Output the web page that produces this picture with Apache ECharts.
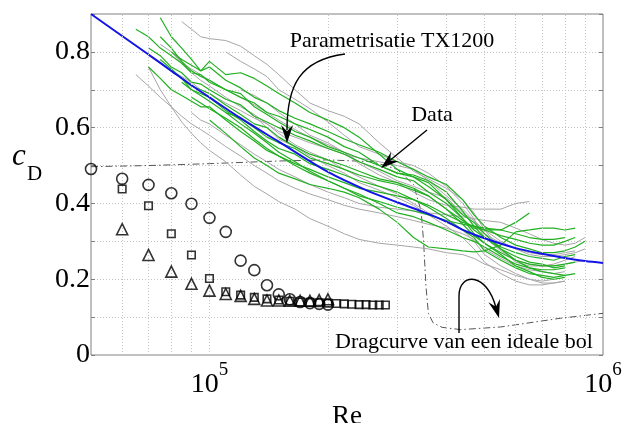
<!DOCTYPE html>
<html>
<head>
<meta charset="utf-8">
<script src="https://cdn.jsdelivr.net/npm/echarts@6/dist/echarts.min.js"></script>
<style>
  html, body { margin: 0; padding: 0; background: #fff; }
  #chart { width: 623px; height: 423px; }
</style>
</head>
<body>
<div id="chart"></div>
<script>
// Reynolds numbers at which the measured runs are sampled
const reGrid = [6.5e4, 7e4, 7.5e4, 8e4, 8.5e4, 9e4, 9.5e4, 1e5, 1.1e5, 1.2e5, 1.3e5, 1.4e5, 1.5e5, 1.65e5, 1.8e5,
  2e5, 2.2e5, 2.4e5, 2.7e5, 3e5, 3.3e5, 3.6e5, 4e5, 4.4e5, 4.7e5, 5e5, 5.5e5, 6e5, 6.5e5, 7e5, 7.5e5, 8e5, 8.5e5, 9e5, 9.5e5];

// green runs: index in reGrid where the run starts, then cD values
const greenStart = [2, 0, 1, 2, 3, 1, 7, 4, 5, 2, 3, 8];
const greenVals = [
  [0.89,0.84,0.81,0.78,0.75,0.775,0.74,0.745,0.73,0.71,0.69,0.665,0.64,0.62,0.60,0.575,0.53,0.49,0.47,0.445,0.41,0.37,0.35,0.32,0.28,0.26,0.245,0.24,0.23,0.235],
  [0.86,0.84,0.81,0.79,0.77,0.745,0.74,0.72,0.70,0.68,0.665,0.64,0.63,0.61,0.595,0.575,0.55,0.535,0.50,0.48,0.475,0.46,0.43,0.38,0.34,0.31,0.28,0.25,0.23,0.22,0.215,0.21,0.215],
  [0.81,0.79,0.76,0.745,0.72,0.715,0.70,0.675,0.66,0.63,0.615,0.60,0.58,0.565,0.545,0.53,0.51,0.49,0.47,0.46,0.43,0.40,0.36,0.33,0.31,0.285,0.27,0.26,0.255,0.25,0.26,0.265],
  [0.78,0.755,0.73,0.71,0.70,0.69,0.66,0.635,0.61,0.60,0.575,0.55,0.53,0.515,0.50,0.485,0.465,0.455,0.44,0.42,0.385,0.355,0.335,0.33,0.33,0.35,0.375],
  [0.75,0.73,0.70,0.69,0.68,0.645,0.62,0.59,0.565,0.545,0.53,0.505,0.49,0.475,0.46,0.445,0.43,0.41,0.39,0.36,0.33,0.31,0.275,0.25,0.23,0.215,0.21,0.205,0.21],
  [0.76,0.73,0.70,0.685,0.67,0.655,0.655,0.62,0.59,0.565,0.54,0.525,0.505,0.49,0.47,0.455,0.44,0.43,0.42,0.41,0.395,0.37,0.35,0.34,0.33,0.315,0.305,0.295,0.29,0.29,0.30,0.31],
  [0.62,0.585,0.55,0.52,0.50,0.48,0.465,0.45,0.44,0.43,0.415,0.385,0.35,0.31,0.285,0.28,0.275,0.272,0.275,0.29,0.325,0.33,0.335,0.335,0.33,0.335],
  [0.72,0.70,0.685,0.67,0.64,0.625,0.60,0.575,0.56,0.545,0.52,0.505,0.49,0.475,0.46,0.45,0.435,0.42,0.385,0.345,0.315,0.295,0.265,0.235,0.22,0.205,0.20,0.205],
  [0.68,0.665,0.65,0.625,0.60,0.57,0.545,0.525,0.50,0.48,0.46,0.44,0.425,0.40,0.375,0.365,0.35,0.33,0.31,0.30,0.285,0.26,0.24,0.23,0.225,0.225,0.23],
  [0.84,0.81,0.775,0.75,0.735,0.725,0.70,0.69,0.655,0.635,0.615,0.59,0.575,0.55,0.535,0.52,0.50,0.48,0.47,0.455,0.41,0.36,0.32,0.295,0.27,0.25,0.24,0.235,0.235,0.24,0.245],
  [0.80,0.78,0.765,0.75,0.76,0.725,0.705,0.68,0.665,0.645,0.625,0.61,0.59,0.57,0.555,0.535,0.51,0.49,0.47,0.45,0.41,0.37,0.34,0.31,0.29,0.28,0.27,0.27,0.275,0.285,0.30],
  [0.64,0.61,0.585,0.56,0.535,0.51,0.485,0.46,0.44,0.42,0.405,0.39,0.38,0.37,0.355,0.345,0.34,0.335,0.33,0.32,0.31,0.305,0.305,0.31]
];

// gray runs
const grayStart = [4, 1, 9, 1, 2, 5, 0, 8, 3, 9];
const grayVals = [
  [0.88,0.86,0.84,0.835,0.83,0.815,0.79,0.767,0.74,0.70,0.665,0.645,0.63,0.61,0.56,0.52,0.485,0.465,0.44,0.41,0.375,0.33,0.28,0.245,0.235,0.235,0.235,0.24,0.245,0.25],
  [0.79,0.77,0.75,0.735,0.72,0.70,0.69,0.665,0.645,0.625,0.61,0.59,0.575,0.56,0.545,0.53,0.52,0.51,0.50,0.49,0.46,0.42,0.385,0.355,0.32,0.295,0.28,0.27,0.265,0.265,0.27,0.275],
  [0.70,0.685,0.665,0.64,0.61,0.58,0.56,0.535,0.505,0.475,0.455,0.43,0.41,0.395,0.39,0.385,0.385,0.385,0.40,0.405],
  [0.76,0.70,0.655,0.615,0.585,0.56,0.54,0.51,0.475,0.445,0.425,0.405,0.385,0.36,0.34,0.32,0.305,0.295,0.29,0.285,0.28,0.27,0.265,0.255,0.24,0.225,0.21,0.20,0.195,0.20],
  [0.82,0.80,0.775,0.745,0.725,0.71,0.68,0.655,0.635,0.61,0.585,0.555,0.535,0.515,0.49,0.47,0.445,0.425,0.40,0.375,0.35,0.33,0.30,0.265,0.235,0.215,0.20,0.19,0.19,0.195],
  [0.64,0.62,0.61,0.58,0.555,0.53,0.51,0.49,0.47,0.45,0.43,0.415,0.40,0.39,0.385,0.38,0.375,0.37,0.365,0.36,0.355,0.35,0.335,0.32,0.305,0.295,0.29,0.295,0.31],
  [0.74,0.71,0.68,0.655,0.63,0.61,0.595,0.58,0.55,0.525,0.50,0.48,0.46,0.44,0.425,0.41,0.395,0.385,0.375,0.365,0.355,0.345,0.335,0.32,0.305,0.28,0.255,0.235,0.225,0.22,0.215,0.22],
  [0.80,0.775,0.755,0.735,0.70,0.675,0.65,0.615,0.58,0.55,0.53,0.51,0.50,0.48,0.445,0.40,0.36,0.31,0.275,0.25,0.24,0.235,0.24,0.25,0.26],
  [0.80,0.77,0.755,0.74,0.725,0.70,0.68,0.66,0.64,0.62,0.595,0.575,0.555,0.535,0.51,0.485,0.46,0.445,0.43,0.415,0.375,0.355,0.33,0.30,0.28,0.265,0.26,0.26,0.265,0.27,0.28],
  [0.66,0.63,0.60,0.57,0.55,0.525,0.50,0.48,0.455,0.435,0.415,0.395,0.37,0.34,0.31,0.28,0.245,0.215,0.195,0.185,0.185,0.19,0.195]
];

// Parametrisatie TX1200
const blueRe = [5e4,6e4,7e4,8e4,9e4,1e5,1.2e5,1.5e5,2e5,2.5e5,3e5,3.5e5,4e5,4.5e5,5e5,6e5,7e5,8e5,9e5,1e6];
const blueCd = [0.900,0.842,0.793,0.750,0.712,0.680,0.625,0.563,0.483,0.435,0.403,0.377,0.352,0.326,0.308,0.282,0.267,0.256,0.248,0.243];

// drag curve of an ideal sphere
const dragRe = [5e4,7e4,1e5,1.5e5,2e5,2.6e5,3e5,3.3e5,3.45e5,3.5e5,3.55e5,3.6e5,3.7e5,3.9e5,4.35e5,5.5e5,7.8e5,1e6];
const dragCd = [0.497,0.500,0.505,0.512,0.515,0.51,0.49,0.45,0.38,0.30,0.18,0.11,0.085,0.073,0.067,0.074,0.097,0.11];

// reference markers
const circleRe = [5e4,6e4,7e4,8e4,9e4,1e5,1.1e5,1.2e5,1.3e5,1.4e5,1.5e5,1.6e5,1.7e5,1.8e5,1.9e5,2e5];
const circleCd = [0.491,0.465,0.449,0.427,0.399,0.362,0.325,0.249,0.224,0.184,0.160,0.147,0.140,0.137,0.135,0.133];
const squareRe = [6e4,7e4,8e4,9e4,1e5,1.1e5,1.2e5,1.3e5,1.4e5,1.5e5,1.6e5,1.7e5,1.8e5,1.9e5,2e5,2.1e5,2.2e5,2.3e5,2.4e5,2.5e5,2.6e5,2.7e5,2.8e5];
const squareCd = [0.438,0.394,0.320,0.264,0.202,0.167,0.158,0.152,0.148,0.145,0.142,0.140,0.139,0.138,0.137,0.136,0.135,0.134,0.133,0.133,0.132,0.132,0.132];
const triRe = [6e4,7e4,8e4,9e4,1e5,1.1e5,1.2e5,1.3e5,1.4e5,1.5e5,1.6e5,1.7e5,1.8e5,1.9e5,2e5];
const triCd = [0.332,0.264,0.220,0.188,0.170,0.161,0.156,0.148,0.144,0.144,0.143,0.143,0.143,0.145,0.147];

// vertical grid lines of the log axis
const gridRe = [6e4,7e4,8e4,9e4,1e5,2e5,3e5,4e5,5e5,6e5,7e5,8e5,9e5];

const serif = "'Liberation Serif', 'DejaVu Serif', serif";

function run(start, vals) {
  return vals.map((v, i) => [reGrid[start + i], v]);
}
function pairs(xs, ys) {
  return xs.map((x, i) => [x, ys[i]]);
}

var myChart = echarts.init(document.getElementById('chart'));

var series = [];
series.push({
  type: 'line', data: [], z: 1, silent: true,
  markLine: {
    silent: true, symbol: 'none', label: { show: false },
    lineStyle: { color: '#c4c4c4', type: [1, 2], width: 1 },
    data: gridRe.map(r => ({ xAxis: r }))
  }
});
series.push({
  type: 'line', data: pairs(dragRe, dragCd), showSymbol: false, z: 2,
  lineStyle: { color: '#555', width: 1, type: [7, 3, 1.5, 3] }
});
grayVals.forEach((v, k) => {
  series.push({
    type: 'line', data: run(grayStart[k], v), showSymbol: false, z: 2,
    lineStyle: { color: '#a6a6a6', width: 1 }
  });
});
greenVals.forEach((v, k) => {
  series.push({
    type: 'line', data: run(greenStart[k], v), showSymbol: false, z: 3,
    lineStyle: { color: '#22b022', width: 1.2 }
  });
});
series.push({
  type: 'line', data: pairs(blueRe, blueCd), showSymbol: false, smooth: 0.3, z: 4,
  lineStyle: { color: '#1414e6', width: 2 }
});
const markerStyle = { color: 'rgba(255,255,255,0)', borderColor: '#000', borderWidth: 1.6 };
series.push({ type: 'scatter', data: pairs(circleRe, circleCd), symbol: 'circle', symbolSize: 11, z: 5, itemStyle: markerStyle });
series.push({ type: 'scatter', data: pairs(squareRe, squareCd), symbol: 'rect', symbolSize: 7.5, z: 5, itemStyle: markerStyle });
series.push({ type: 'scatter', data: pairs(triRe, triCd), symbol: 'triangle', symbolSize: 11, z: 5, itemStyle: markerStyle });

function head(tip, from, len, half) {
  const dx = tip[0] - from[0], dy = tip[1] - from[1];
  const d = Math.sqrt(dx * dx + dy * dy), ux = dx / d, uy = dy / d;
  const bx = tip[0] - len * ux, by = tip[1] - len * uy;
  return [tip, [bx - half * uy, by + half * ux], [tip[0] - 0.65 * len * ux, tip[1] - 0.65 * len * uy], [bx + half * uy, by - half * ux]];
}

const arrowStroke = { stroke: '#000', lineWidth: 1.4, fill: null };
myChart.setOption({
  animation: false,
  grid: { left: 91, top: 14, right: 20, bottom: 68, containLabel: false, outerBoundsMode: 'none',
    show: true, borderColor: '#808080', borderWidth: 1 },
  xAxis: {
    type: 'log', logBase: 10, min: 5e4, max: 1e6,
    name: 'Re', nameLocation: 'middle', nameGap: 35,
    nameTextStyle: { fontFamily: serif, fontSize: 27, color: '#000' },
    axisLine: { show: false }, axisTick: { show: false }, splitLine: { show: false },
    axisLabel: {
      margin: 6, color: '#000',
      formatter: function (v) {
        const e = Math.log10(v);
        if (Math.abs(e - Math.round(e)) < 1e-6) return '{b|10}{s|' + Math.round(e) + '}';
        return '';
      },
      rich: {
        b: { fontFamily: serif, fontSize: 28, verticalAlign: 'bottom', lineHeight: 38, color: '#000' },
        s: { fontFamily: serif, fontSize: 19, verticalAlign: 'top', lineHeight: 38, color: '#000' }
      }
    }
  },
  yAxis: [{
    type: 'value', min: 0, max: 0.9, interval: 0.1,
    axisLine: { show: false },
    axisTick: { show: true, inside: true, length: 4, lineStyle: { color: '#808080' } },
    splitLine: { show: true, lineStyle: { color: '#c4c4c4', type: [1, 2], width: 1 } },
    axisLabel: {
      margin: 1, color: '#000', fontFamily: serif, fontSize: 28,
      formatter: function (v) {
        const t = Math.round(v * 10);
        if (t % 2 !== 0) return '';
        return t === 0 ? '0' : (t / 10).toFixed(1);
      }
    }
  }, {
    type: 'value', min: 0, max: 0.9, interval: 0.1, position: 'right',
    axisLine: { show: false }, axisLabel: { show: false }, splitLine: { show: false },
    axisTick: { show: true, inside: true, length: 4, lineStyle: { color: '#808080' } }
  }],
  series: series,
  graphic: [
    { type: 'text', left: 12, top: 141, z: 10, style: { text: 'c', font: 'italic 31px ' + serif, fill: '#000' } },
    { type: 'text', left: 27, top: 164, z: 10, style: { text: 'D', font: '21px ' + serif, fill: '#000' } },
    { type: 'text', z: 10, style: { x: 392, y: 41, text: 'Parametrisatie TX1200', font: '22px ' + serif, fill: '#000', align: 'center', verticalAlign: 'middle' } },
    { type: 'text', z: 10, style: { x: 432, y: 115, text: 'Data', font: '22px ' + serif, fill: '#000', align: 'center', verticalAlign: 'middle' } },
    { type: 'text', z: 10, style: { x: 464, y: 342, text: 'Dragcurve van een ideale bol', font: '22px ' + serif, fill: '#000', align: 'center', verticalAlign: 'middle' } },
    { type: 'bezierCurve', z: 10, shape: { x1: 345, y1: 54, cpx1: 300, cpy1: 60, cpx2: 287, cpy2: 85, x2: 287, y2: 130 }, style: arrowStroke },
    { type: 'polygon', z: 10, shape: { points: head([287, 143], [287, 120], 18, 6) }, style: { fill: '#000' } },
    { type: 'line', z: 10, shape: { x1: 427, y1: 130, x2: 388, y2: 162 }, style: arrowStroke },
    { type: 'polygon', z: 10, shape: { points: head([381, 168], [427, 130], 18, 6) }, style: { fill: '#000' } },
    { type: 'line', z: 10, shape: { x1: 459, y1: 333, x2: 459, y2: 296 }, style: arrowStroke },
    { type: 'bezierCurve', z: 10, shape: { x1: 459, y1: 296, cpx1: 459, cpy1: 272, cpx2: 487, cpy2: 272, x2: 496, y2: 308 }, style: arrowStroke },
    { type: 'polygon', z: 10, shape: { points: head([499, 318], [494, 300], 18, 6) }, style: { fill: '#000' } }
  ]
});

window.addEventListener('resize', function () { myChart.resize(); });
</script>
</body>
</html>
